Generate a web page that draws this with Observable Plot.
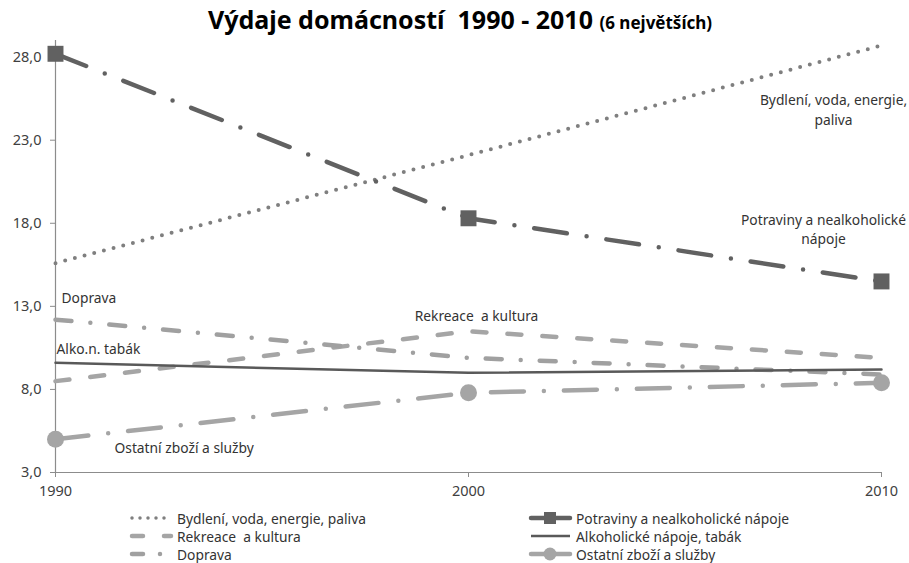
<!DOCTYPE html>
<html>
<head>
<meta charset="utf-8">
<script src="https://cdn.jsdelivr.net/npm/d3@7"></script>
<script src="https://cdn.jsdelivr.net/npm/@observablehq/plot@0.6"></script>
<style>
  body { margin: 0; background: #fff; font-family: "Noto Sans", sans-serif; }
  #wrap { position: relative; width: 909px; height: 563px; overflow: hidden; }
  #title { position: absolute; left: 0; top: 2px; width: 920px; text-align: center; font-weight: bold; color: #000; white-space: pre; }
  #title .main { font-size: 25px; }
  #title .sub { font-size: 17px; }
  #chart { position: absolute; left: 0; top: 36px; }
  .leg { position: absolute; height: 18px; display: flex; align-items: center; font-size: 13.8px; color: #333; white-space: pre; }
  .leg svg { margin-right: 3px; }
</style>
</head>
<body>
<div id="wrap">
  <div id="title"><span class="main">Výdaje domácností  1990 - 2010 </span><span class="sub">(6 největších)</span></div>
  <div id="chart"></div>
  <div id="legend"></div>
</div>
<script>
const years = [1990, 2000, 2010];
const seriesNames = [
  "Bydlení, voda, energie, paliva",
  "Potraviny a nealkoholické nápoje",
  "Rekreace  a kultura",
  "Alkoholické nápoje, tabák",
  "Doprava",
  "Ostatní zboží a služby"
];
const bydleni   = [15.6, 22.1, 28.7];
const potraviny = [28.2, 18.3, 14.5];
const rekreace  = [8.5, 11.5, 9.9];
const alko      = [9.6, 9.0, 9.2];
const doprava   = [12.2, 9.9, 8.9];
const ostatni   = [5.0, 7.8, 8.4];
const yTicks = [3, 8, 13, 18, 23, 28];
const inlineLabels = [
  "Bydlení, voda, energie,\npaliva",
  "Potraviny a nealkoholické\nnápoje",
  "Rekreace  a kultura",
  "Alko.n. tabák",
  "Doprava",
  "Ostatní zboží a služby"
];

const toRows = (vals) => years.map((y, i) => ({year: y, value: vals[i]}));
const S = {
  bydleni: toRows(bydleni),
  potraviny: toRows(potraviny),
  rekreace: toRows(rekreace),
  alko: toRows(alko),
  doprava: toRows(doprava),
  ostatni: toRows(ostatni)
};

const styles = {
  bydleni:   {stroke: "#7f7f7f", strokeWidth: 4, strokeDasharray: "0 10", strokeLinecap: "round"},
  potraviny: {stroke: "#616161", strokeWidth: 4.5, strokeDasharray: "33 20 0 20", strokeLinecap: "round"},
  rekreace:  {stroke: "#a5a5a5", strokeWidth: 4.5, strokeDasharray: "14 21", strokeLinecap: "round"},
  alko:      {stroke: "#595959", strokeWidth: 2.5},
  doprava:   {stroke: "#a0a0a0", strokeWidth: 4.5, strokeDasharray: "16 19 0 19", strokeLinecap: "round"},
  ostatni:   {stroke: "#a5a5a5", strokeWidth: 4.5, strokeDasharray: "33 20 0 20", strokeLinecap: "round"}
};

const fmt = d => d.toFixed(1).replace(".", ",");
const lblFont = {fontSize: 13.8, fill: "#333", fontFamily: "Noto Sans"};

const chart = Plot.plot({
  width: 909,
  height: 470,
  marginLeft: 55,
  marginRight: 28,
  marginTop: 4,
  marginBottom: 34,
  style: {fontFamily: "Noto Sans", fontSize: "14.5px", color: "#404040", background: "#fff"},
  x: {domain: [1990, 2010]},
  y: {domain: [3, 29]},
  marks: [
    Plot.ruleX([1990], {stroke: "#8c8c8c", strokeWidth: 1.2}),
    Plot.ruleY([3], {stroke: "#8c8c8c", strokeWidth: 1.2}),
    Plot.axisY({ticks: yTicks, tickFormat: fmt, tickSize: 5, tickPadding: 9, stroke: "#8c8c8c", fill: "#404040", label: null, fontSize: 14.5}),
    Plot.axisX({ticks: years, tickFormat: d => String(d), tickSize: 5, tickPadding: 8, stroke: "#8c8c8c", fill: "#404040", label: null, fontSize: 14.5}),
    Plot.line(S.bydleni,   {x: "year", y: "value", ...styles.bydleni}),
    Plot.line(S.rekreace,  {x: "year", y: "value", ...styles.rekreace}),
    Plot.line(S.doprava,   {x: "year", y: "value", ...styles.doprava}),
    Plot.line(S.alko,      {x: "year", y: "value", ...styles.alko}),
    Plot.line(S.ostatni,   {x: "year", y: "value", ...styles.ostatni}),
    Plot.line(S.potraviny, {x: "year", y: "value", ...styles.potraviny}),
    Plot.dot(S.potraviny, {x: "year", y: "value", symbol: "square", r: 9, fill: "#616161", stroke: "none"}),
    Plot.dot(S.ostatni,   {x: "year", y: "value", symbol: "circle", r: 8.5, fill: "#a5a5a5", stroke: "none"}),
    // inline labels, anchored on the series' own points
    Plot.text([S.bydleni[2]], {x: "year", y: "value", text: () => inlineLabels[0], dx: -48, dy: 63, textAnchor: "middle", lineHeight: 1.45, ...lblFont}),
    Plot.text([S.potraviny[2]], {x: "year", y: "value", text: () => inlineLabels[1], dx: -58, dy: -53, textAnchor: "middle", lineHeight: 1.4, ...lblFont}),
    Plot.text([S.rekreace[1]], {x: "year", y: "value", text: () => inlineLabels[2], dx: 8, dy: -15, textAnchor: "middle", ...lblFont}),
    Plot.text([S.alko[0]], {x: "year", y: "value", text: () => inlineLabels[3], dx: 1, dy: -13, textAnchor: "start", ...lblFont}),
    Plot.text([S.doprava[0]], {x: "year", y: "value", text: () => inlineLabels[4], dx: 6, dy: -21, textAnchor: "start", ...lblFont}),
    Plot.text([S.ostatni[0]], {x: "year", y: "value", text: () => inlineLabels[5], dx: 59, dy: 9, textAnchor: "start", ...lblFont})
  ]
});
document.getElementById("chart").appendChild(chart);

// Legend
const legendItems = [
  {key: "bydleni", name: seriesNames[0], col: 0, row: 0},
  {key: "rekreace", name: seriesNames[2], col: 0, row: 1},
  {key: "doprava", name: seriesNames[4], col: 0, row: 2},
  {key: "potraviny", name: seriesNames[1], col: 1, row: 0, marker: "square"},
  {key: "alko", name: seriesNames[3], col: 1, row: 1},
  {key: "ostatni", name: seriesNames[5], col: 1, row: 2, marker: "circle"}
];
const legendDash = {
  bydleni: "0 8", rekreace: "11 21", doprava: "11 17 0 20", potraviny: null, alko: null, ostatni: null
};
const leg = document.getElementById("legend");
legendItems.forEach(it => {
  const st = styles[it.key];
  const div = document.createElement("div");
  div.className = "leg";
  div.style.left = (it.col === 0 ? 128 : 527) + "px";
  div.style.top = (509 + it.row * 18) + "px";
  const w = 46;
  let svg = `<svg width="${w}" height="18">`;
  const dash = legendDash[it.key];
  const sw = it.key === "bydleni" ? 3.5 : st.strokeWidth;
  svg += `<line x1="4" x2="${w - 3}" y1="9" y2="9" stroke="${st.stroke}" stroke-width="${sw}" ${dash ? `stroke-dasharray="${dash}"` : ""} stroke-linecap="${st.strokeLinecap || "butt"}"/>`;
  if (it.marker === "square") svg += `<rect x="${w/2 - 6}" y="3" width="12" height="12" fill="${st.stroke}"/>`;
  if (it.marker === "circle") svg += `<circle cx="${w/2}" cy="9" r="6.5" fill="${st.stroke}"/>`;
  svg += `</svg>`;
  div.innerHTML = svg + `<span>${it.name}</span>`;
  leg.appendChild(div);
});
</script>
</body>
</html>
